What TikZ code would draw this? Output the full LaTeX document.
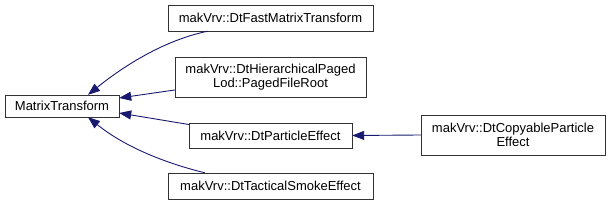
\documentclass[tikz,border=0pt]{standalone}
\usepackage{fontspec}
\setmainfont{Liberation Sans}
\usetikzlibrary{arrows.meta,calc}
\definecolor{dxNavy}{HTML}{191970}

\begin{document}
\begin{tikzpicture}[x=1pt,y=1pt,cls/.style={draw=black!80,fill=white,inner sep=0pt,align=center,font=\fontsize{13}{14.5}\selectfont},inh/.style={draw=dxNavy,line width=.9pt,{Triangle[length=12pt,width=9pt]}-}]
\useasboundingbox (0,0) rectangle (611,205);
\node[cls,minimum width=205pt,minimum height=26pt] (fast) at (270.5,187) {makVrv::DtFastMatrixTransform};
\node[cls,minimum width=114pt,minimum height=22pt] (mt) at (62,99) {MatrixTransform};
\node[cls,minimum width=191pt,minimum height=40pt] (hier) at (270.5,128) {makVrv::DtHierarchicalPaged\\Lod::PagedFileRoot};
\node[cls,minimum width=163pt,minimum height=25pt] (part) at (270.5,69.5) {makVrv::DtParticleEffect};
\node[cls,minimum width=205pt,minimum height=26pt] (smoke) at (270.5,19) {makVrv::DtTacticalSmokeEffect};
\node[cls,minimum width=184pt,minimum height=40pt] (copy) at (513,70) {makVrv::DtCopyableParticle\\Effect};
\draw[inh] ($(mt.north)+(26,0)$) .. controls (125,140) and (165,165) .. ($(fast.south west)+(40,0)$);
\draw[inh] ($(mt.east)+(0,8)$) -- ($(hier.west)+(0,-13)$);
\draw[inh] ($(mt.east)+(0,-7)$) -- ($(part.west)+(0,11)$);
\draw[inh] ($(mt.south)+(26,0)$) .. controls (125,58) and (165,42) .. ($(smoke.north west)+(37,0)$);
\draw[inh] (part.east) -- (copy.west);
\end{tikzpicture}
\end{document}
